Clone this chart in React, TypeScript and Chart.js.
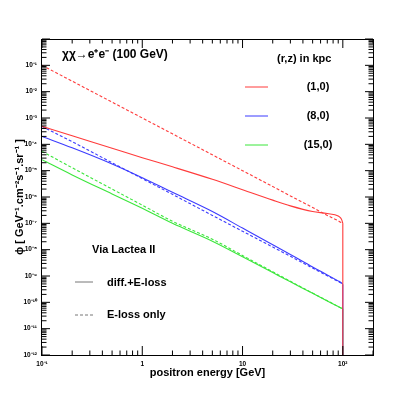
import React, { useEffect, useRef } from 'react';
import { Chart, registerables } from 'chart.js';

Chart.register(...registerables);

const FONT = '"Liberation Sans", Arial, Helvetica, sans-serif';

// positron energy grid [GeV]
const energies = [0.1, 0.2, 0.5, 1, 2, 5, 10, 20, 30, 50, 70, 90, 95, 98, 100];
// (r,z) = (1,0) kpc
const flux_1_0_diff = [4.8e-4, 2.1e-4, 7.1e-5, 3.1e-5, 1.4e-5, 4.7e-6, 1.9e-6, 7.6e-7, 4.6e-7, 2.8e-7, 2.35e-7, 1.9e-7, 1.6e-7, 1.3e-7, 1.0e-7];
const flux_1_0_eloss = [1.0e-1, 2.5e-2, 4.0e-3, 1.0e-3, 2.5e-4, 4.0e-5, 1.0e-5, 2.5e-6, 1.1e-6, 4.0e-7, 2.0e-7, 1.25e-7, 1.1e-7, 1.05e-7, 1.0e-7];
// (r,z) = (8,0) kpc
const flux_8_0_diff = [2.0e-4, 7.4e-5, 1.8e-5, 5.4e-6, 1.5e-6, 2.8e-7, 6.6e-8, 1.55e-8, 6.6e-9, 2.2e-9, 1.1e-9, 6.5e-10, 5.8e-10, 5.25e-10, 4.9e-10];
const flux_8_0_eloss = [4.8e-4, 1.26e-4, 2.0e-5, 5.0e-6, 1.26e-6, 2.0e-7, 5.0e-8, 1.26e-8, 5.6e-9, 2.0e-9, 1.02e-9, 6.2e-10, 5.5e-10, 5.25e-10, 4.9e-10];
// (r,z) = (15,0) kpc
const flux_15_0_diff = [2.6e-5, 6.9e-6, 1.3e-6, 3.7e-7, 1.0e-7, 2.1e-8, 5.4e-9, 1.35e-9, 6.0e-10, 2.2e-10, 1.12e-10, 6.9e-11, 6.2e-11, 5.9e-11, 5.75e-11];
const flux_15_0_eloss = [5.4e-5, 1.29e-5, 2.0e-6, 4.9e-7, 1.2e-7, 2.5e-8, 6.0e-9, 1.45e-9, 6.3e-10, 2.24e-10, 1.15e-10, 6.9e-11, 6.2e-11, 5.9e-11, 5.75e-11];

const cutoffEnergy = 100; // DM mass: spectra end here
const fluxFloor = 1e-12;

const seriesNames = ['(1,0)', '(8,0)', '(15,0)'];
const seriesColors = ['#ff3b3b', '#3b3bff', '#3be63b'];

const xMin = 0.1;
const xMax = 200;
const yMin = 1e-12;
const yMax = 1;
const xTickValues = [0.1, 1, 10, 100];
const xTickLabels = ['10⁻¹', '1', '10', '10²'];
const yTickValues = [1e-12, 1e-11, 1e-10, 1e-9, 1e-8, 1e-7, 1e-6, 1e-5, 1e-4, 1e-3, 1e-2, 1e-1];
const yTickLabels = ['10⁻¹²', '10⁻¹¹', '10⁻¹⁰', '10⁻⁹', '10⁻⁸', '10⁻⁷', '10⁻⁶', '10⁻⁵', '10⁻⁴', '10⁻³', '10⁻²', '10⁻¹'];

const titleText = 'χχ→e⁺e⁻ (100 GeV)';
const legendHeader = '(r,z) in kpc';
const haloText = 'Via Lactea II';
const styleNames = ['diff.+E-loss', 'E-loss only'];
const xTitle = 'positron energy [GeV]';
const yTitle = 'ϕ [ GeV⁻¹.cm⁻²s⁻¹.sr⁻¹ ]';

function points(values: number[]) {
  return energies.map((e, i) => ({ x: e, y: values[i] }));
}
function cutoff(values: number[]) {
  return [
    { x: cutoffEnergy, y: values[values.length - 1] },
    { x: cutoffEnergy, y: fluxFloor },
  ];
}

const decorPlugin = {
  id: 'rootDecor',
  afterDatasetsDraw(chart: any) {
    const { ctx, chartArea } = chart;
    const xs = chart.scales.x;
    const ys = chart.scales.y;
    const L = chartArea.left, R = chartArea.right, T = chartArea.top, B = chartArea.bottom;
    ctx.save();
    ctx.strokeStyle = '#000';
    ctx.lineWidth = 1;
    ctx.beginPath();
    for (let d = -1; d <= 2; d++) {
      for (let k = 1; k <= 9; k++) {
        const v = k * Math.pow(10, d);
        if (v < xMin * 0.999 || v > xMax * 1.001) continue;
        const px = xs.getPixelForValue(v);
        const len = k === 1 ? 9 : 4.5;
        ctx.moveTo(px, B);
        ctx.lineTo(px, B - len);
        ctx.moveTo(px, T);
        ctx.lineTo(px, T + len);
      }
    }
    for (let d = -12; d <= 0; d++) {
      for (let k = 1; k <= 9; k++) {
        const v = k * Math.pow(10, d);
        if (v < yMin * 0.999 || v > yMax * 1.001) continue;
        const py = ys.getPixelForValue(v);
        const len = k === 1 ? 8 : 4.5;
        ctx.moveTo(L, py);
        ctx.lineTo(L + len, py);
        ctx.moveTo(R, py);
        ctx.lineTo(R - len, py);
      }
    }
    ctx.stroke();
    ctx.strokeRect(Math.round(L) - 0.5, Math.round(T) + 0.5, Math.round(R - L) + 1, Math.round(B - T));

    ctx.fillStyle = '#000';
    ctx.textBaseline = 'middle';
    ctx.textAlign = 'left';
    ctx.font = `bold 12px ${FONT}`;
    ctx.fillText(titleText, 62, 55);

    ctx.font = `bold 11px ${FONT}`;
    ctx.fillText(legendHeader, 277, 59);
    const rows = [87, 116, 145];
    seriesNames.forEach((name, i) => {
      ctx.strokeStyle = seriesColors[i];
      ctx.lineWidth = 1;
      ctx.beginPath();
      ctx.moveTo(245, rows[i]);
      ctx.lineTo(268, rows[i]);
      ctx.stroke();
      ctx.textAlign = 'center';
      ctx.fillText(name, 318, rows[i]);
    });
    ctx.textAlign = 'left';
    ctx.fillText(haloText, 92, 250);

    ctx.strokeStyle = '#777';
    ctx.lineWidth = 1;
    ctx.beginPath();
    ctx.moveTo(75, 282);
    ctx.lineTo(93, 282);
    ctx.stroke();
    ctx.setLineDash([3, 2]);
    ctx.beginPath();
    ctx.moveTo(75, 315);
    ctx.lineTo(93, 315);
    ctx.stroke();
    ctx.setLineDash([]);
    ctx.fillText(styleNames[0], 107, 283);
    ctx.fillText(styleNames[1], 107, 315);
    ctx.restore();
  },
};

export default function App() {
  const canvasRef = useRef<HTMLCanvasElement | null>(null);

  useEffect(() => {
    const canvas = canvasRef.current;
    if (!canvas) return;
    const solid: number[] = [];
    const dashed = [3, 2];
    const sets = [
      { data: points(flux_1_0_diff), color: seriesColors[0], dash: solid },
      { data: cutoff(flux_1_0_diff), color: seriesColors[0], dash: solid },
      { data: points(flux_1_0_eloss), color: seriesColors[0], dash: dashed },
      { data: points(flux_8_0_diff), color: seriesColors[1], dash: solid },
      { data: cutoff(flux_8_0_diff), color: seriesColors[1], dash: solid },
      { data: points(flux_8_0_eloss), color: seriesColors[1], dash: dashed },
      { data: points(flux_15_0_diff), color: seriesColors[2], dash: solid },
      { data: cutoff(flux_15_0_diff), color: seriesColors[2], dash: solid },
      { data: points(flux_15_0_eloss), color: seriesColors[2], dash: dashed },
    ];
    const chart = new Chart(canvas, {
      type: 'line',
      data: {
        datasets: sets.map((s) => ({
          data: s.data,
          borderColor: s.color,
          backgroundColor: s.color,
          borderWidth: 1.1,
          borderDash: s.dash,
          pointRadius: 0,
          cubicInterpolationMode: s.data.length > 2 ? 'monotone' : 'default',
          tension: 0,
          fill: false,
        })),
      },
      options: {
        animation: false,
        responsive: true,
        maintainAspectRatio: false,
        events: [],
        layout: { padding: { top: 39, right: 42, left: 0, bottom: 0 } },
        plugins: { legend: { display: false }, tooltip: { enabled: false } },
        scales: {
          x: {
            type: 'logarithmic',
            min: xMin,
            max: xMax,
            grid: { display: false, drawTicks: false },
            border: { display: false },
            afterBuildTicks: (scale: any) => {
              scale.ticks = xTickValues.map((v) => ({ value: v }));
            },
            afterFit: (scale: any) => {
              scale.height = 40;
            },
            ticks: {
              autoSkip: false,
              maxRotation: 0,
              padding: 5,
              color: '#000',
              font: { family: FONT, size: 6.5, weight: 'bold' },
              callback: (_v: any, i: number) => xTickLabels[i],
            },
            title: {
              display: true,
              text: xTitle,
              color: '#000',
              font: { family: FONT, size: 11, weight: 'bold' },
              padding: { top: 0, bottom: 15.4 },
            },
          },
          y: {
            type: 'logarithmic',
            min: yMin,
            max: yMax,
            grid: { display: false, drawTicks: false },
            border: { display: false },
            afterBuildTicks: (scale: any) => {
              scale.ticks = yTickValues.map((v) => ({ value: v }));
            },
            afterFit: (scale: any) => {
              scale.width = 42;
            },
            ticks: {
              autoSkip: false,
              padding: 5,
              color: '#000',
              font: { family: FONT, size: 6.5, weight: 'bold' },
              callback: (_v: any, i: number) => yTickLabels[i],
            },
            title: {
              display: true,
              text: yTitle,
              color: '#000',
              font: { family: FONT, size: 11, weight: 'bold' },
              padding: { top: 13.4, bottom: 0 },
            },
          },
        },
      } as any,
      plugins: [decorPlugin],
    });
    return () => chart.destroy();
  }, []);

  return (
    <div style={{ position: 'absolute', left: 0, top: 0, width: 415, height: 395, background: '#fff' }}>
      <canvas ref={canvasRef} />
    </div>
  );
}
